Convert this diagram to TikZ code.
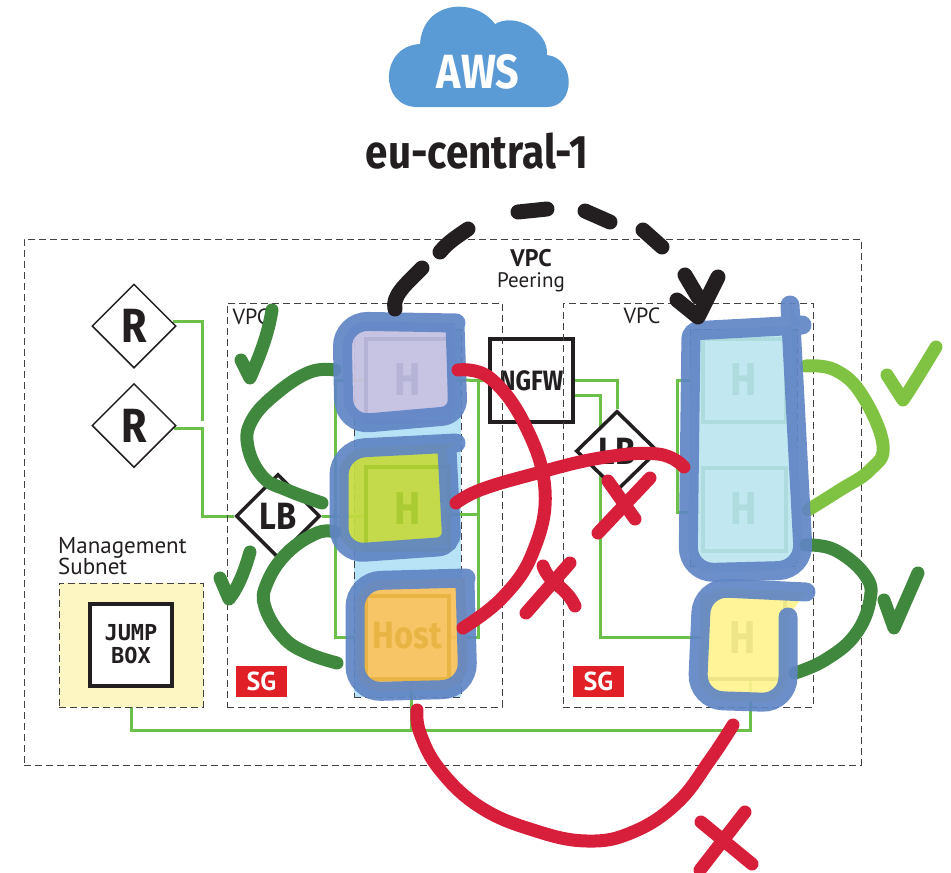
\documentclass[tikz,border=0pt]{standalone}
\usepackage{fontspec}
\setmainfont{PT Sans}
\newfontfamily\heavyfont[FakeStretch=0.86]{Fira Sans}
\newfontfamily\jumpfont{DejaVu Sans Mono}
\usetikzlibrary{shapes.geometric}

\pgfdeclarelayer{under}
\pgfsetlayers{under,main}

\newcommand{\pxfont}[1]{\fontsize{#1}{#1}\selectfont}

\definecolor{cloudBlue}{HTML}{5B9BD5}
\definecolor{wireGreen}{HTML}{6CC04A}
\definecolor{blobBlue}{HTML}{6085C5}
\definecolor{columnBlue}{HTML}{B8E3F7}
\definecolor{tickGreen}{HTML}{41883F}
\definecolor{limeGreen}{HTML}{80C342}
\definecolor{crossRed}{HTML}{D71F3B}
\definecolor{sgRed}{HTML}{E01F26}
\definecolor{inkBlack}{HTML}{231F20}
\definecolor{subnetYellow}{HTML}{FDF6C3}
\definecolor{fillPurple}{HTML}{C9C2E2}
\definecolor{fillLime}{HTML}{C5DA3F}
\definecolor{fillOrange}{HTML}{FDC35C}
\definecolor{fillTeal}{HTML}{C2E8F1}
\definecolor{fillYellow}{HTML}{FFF38F}
\definecolor{linePurple}{HTML}{B5B4D6}
\definecolor{lineLime}{HTML}{AACB32}
\definecolor{lineOrange}{HTML}{E8B544}
\definecolor{lineTeal}{HTML}{AEDBDE}
\definecolor{lineYellow}{HTML}{EDE587}

\tikzset{
	vpcBox/.style={rectangle, draw=inkBlack!85, dash pattern=on 7pt off 4pt, line width=0.9pt, inner sep=0pt},
	wire/.style={draw=wireGreen, line width=3pt},
	routerNode/.style={diamond, aspect=1, draw=inkBlack, fill=white, line width=#1, inner sep=0pt, minimum width=84pt, minimum height=84pt, text=inkBlack},
	hostNode/.style={rectangle, draw=#1, text=#1, line width=4pt, inner sep=0pt, minimum size=83pt, font=\heavyfont\bfseries\pxfont{46}},
	blobStroke/.style={draw=blobBlue, opacity=0.92, line width=19pt, rounded corners=26pt, line cap=round},
	blobFill/.style={fill=#1, fill opacity=0.93, rounded corners=26pt},
	scribble/.style={line width=#1, line cap=round, line join=round},
	sgTag/.style={rectangle, fill=sgRed, text=white, inner sep=0pt, minimum width=51pt, minimum height=31pt, font=\bfseries\pxfont{26}},
	vpcLabel/.style={text=inkBlack, inner sep=0pt, font=\pxfont{22}},
}

\begin{document}
\begin{tikzpicture}[x=1pt, y=-1pt]
	\useasboundingbox (0,0) rectangle (951,873);

	% region
	\fill[cloudBlue] (417,107) -- (547,107) .. controls (576,107) and (576,58) .. (547,55) .. controls (549,31) and (515,12) .. (495,24) .. controls (475,-3) and (423,0) .. (420,44) .. controls (379,46) and (379,107) .. (417,107) -- cycle;
	\node[text=white, font=\heavyfont\bfseries\pxfont{48}](awsLabel) at (478,72){AWS};
	\node[text=inkBlack, font=\heavyfont\bfseries\pxfont{47}](regionLabel) at (477,151){eu-central-1};

	\node[rectangle, draw=inkBlack, fill=white, line width=4pt, minimum size=83pt, inner sep=0pt, text=inkBlack, font=\heavyfont\bfseries\pxfont{28}](ngfw) at (531.5,380.5){NGFW};

	\node[vpcBox, minimum width=837pt, minimum height=526pt](vpcOuter) at (442.5,502){};
	\node[vpcBox, minimum width=275pt, minimum height=404pt](vpcLeft) at (364.5,505){};
	\node[vpcBox, minimum width=250pt, minimum height=404pt](vpcRight) at (688,505){};
	\node[vpcLabel](vpcLeftLabel) at (251,317){VPC};
	\node[vpcLabel](vpcRightLabel) at (642,316){VPC};
	\node[text=inkBlack, inner sep=0pt, font=\bfseries\pxfont{24}](peeringTop) at (531,258){VPC};
	\node[text=inkBlack, inner sep=0pt, font=\pxfont{21}](peeringBottom) at (531,282){Peering};

	\node[vpcBox, fill=subnetYellow, minimum width=144pt, minimum height=124pt](subnet) at (131,645){};
	\node[rectangle, draw=inkBlack, fill=white, line width=4pt, inner sep=0pt, minimum size=82pt, align=center, text=inkBlack, font=\jumpfont\bfseries\pxfont{22}](jumpBox) at (131,644.5){JUMP\\[1pt]BOX};
	\node[anchor=north west, align=left, inner sep=0pt, text=inkBlack, font=\pxfont{23}](subnetLabel) at (58,537){Management\\[-2pt]Subnet};

	\node[sgTag](sgLeft) at (261.5,681.5){SG};
	\node[sgTag](sgRight) at (598.5,681.5){SG};

	% host fills, then the boxes seen through them
	\def\hostPathA{(456,323) -- (342,321) -- (344,425) [rounded corners=16pt] -- (458,415) -- (455,325)}
	\def\hostPathB{(456,443) -- (339,449) -- (339,554) [rounded corners=14pt] -- (452,546) -- (447,450)}
	\def\hostPathC{(466,578) -- (355,581) -- (355,692) -- (468,689) -- (465,582)}
	\def\hostPathD{(802,325) [rounded corners=8pt] -- (691,331) [rounded corners=26pt] -- (688,573) -- (804,570) -- (790,305)}
	\def\hostPathE{(806,592) -- (702,587) -- (697,700) -- (788,703) -- (788,617)}

	\fill[blobFill=fillPurple] \hostPathA;
	\fill[blobFill=fillLime] \hostPathB;
	\fill[blobFill=fillOrange] \hostPathC;
	\fill[blobFill=fillTeal] \hostPathD;
	\fill[blobFill=fillYellow] \hostPathE;

	\node[hostNode=linePurple](hostA) at (407.5,380){H};
	\node[hostNode=lineLime](hostB) at (407.5,508.5){H};
	\node[hostNode=lineOrange, font=\heavyfont\bfseries\pxfont{38}](hostC) at (407.5,637.5){\raisebox{5pt}{Host}};
	\node[hostNode=lineTeal](hostD) at (744,380){H};
	\node[hostNode=lineTeal](hostE) at (744,509){H};
	\node[hostNode=lineYellow](hostF) at (743,637.5){H};

	\node[routerNode=1.5pt, font=\heavyfont\bfseries\pxfont{48}](routerA) at (134,326){R};
	\node[routerNode=1.5pt, font=\heavyfont\bfseries\pxfont{48}](routerB) at (134,425.5){R};
	\node[routerNode=3.5pt, font=\heavyfont\bfseries\pxfont{38}](lbLeft) at (278,516){LB};
	\node[routerNode=3.5pt, font=\heavyfont\bfseries\pxfont{38}, minimum width=82pt, minimum height=80pt](lbRight) at (617,451){LB};

	% wires
	\coordinate (routerAEnd) at (202,421);
	\coordinate (routerBus) at (202,470);
	\coordinate (busLeft) at (335,500);
	\coordinate (busRight) at (478,500);
	\coordinate (busPeer) at (677,450);
	\coordinate (busLower) at (600,637);
	\coordinate (busBottom) at (750,730);

	\begin{pgfonlayer}{under}
	\node[vpcBox, fill=columnBlue, minimum width=107pt, minimum height=368pt](columnLeft) at (407.5,513){};
	\node[vpcBox, fill=columnBlue, minimum width=107pt, minimum height=237pt](columnRight) at (743.5,447.5){};
	\draw[wire] (routerA.6) -| (routerAEnd);
	\draw[wire] (routerB.-4) -| (routerBus) |- (lbLeft.west);
	\draw[wire] (lbLeft.east) -- (lbLeft.east -| hostB.west);
	\draw[wire] (hostA.west) -| (busLeft) |- (hostC.west);
	\draw[wire] (hostA.east) -- (ngfw.west);
	\draw[wire] (hostA.east -| busRight) -- (busRight) |- (hostC.east);
	\draw[wire] (hostB.-8) -- (hostB.-8 -| busRight);
	\draw[wire] (ngfw.east) -| (lbRight.north);
	\draw[wire] (ngfw.-19) -| (busLower) -- (busLower -| hostF.west);
	\draw[wire] (hostD.west) -| (busPeer) |- (hostE.184);
	\draw[wire] (subnet.south) |- (busBottom) -- (busBottom |- hostF.south);
	\draw[wire] (hostC.-85) -- (hostC.-85 |- busBottom);
	\end{pgfonlayer}

	% green ones
	\draw[scribble=13pt, tickGreen] plot[smooth, tension=0.7] coordinates {(335,370) (310,372) (277,393) (252,420) (248,447) (263,477) (287,490) (322,503)};
	\draw[scribble=13pt, tickGreen] plot[smooth, tension=0.7] coordinates {(335,532) (317,533) (287,553) (267,583) (265,607) (283,637) (307,653) (337,663)};
	\draw[scribble=13pt, tickGreen] (241,360) -- (250,378) .. controls (260,355) and (268,335) .. (272,310);
	\draw[scribble=13pt, tickGreen] (220,578) -- (229,599) .. controls (238,588) and (245,570) .. (250,552);
	\draw[scribble=13pt, limeGreen] plot[smooth, tension=0.7] coordinates {(806,366) (835,370) (862,395) (883,445) (870,470) (840,490) (808,510)};
	\draw[scribble=13pt, tickGreen] plot[smooth, tension=0.7] coordinates {(806,545) (835,550) (865,575) (870,600) (855,635) (825,660) (795,673)};
	\draw[scribble=13pt, limeGreen] (887,375) -- (903,400) .. controls (915,382) and (925,365) .. (936,347);
	\draw[scribble=13pt, tickGreen] (884,600) -- (894,628) -- (918,573);

	% host outlines
	\draw[blobStroke] \hostPathA;
	\draw[blobStroke] \hostPathB;
	\draw[blobStroke] \hostPathC;
	\draw[blobStroke] \hostPathD;
	\draw[blobStroke] \hostPathE;

	% red ones
	\draw[scribble=13pt, crossRed] plot[smooth, tension=0.7] coordinates {(458,370) (490,378) (525,425) (545,490) (533,552) (503,597) (463,628)};
	\draw[scribble=13pt, crossRed] plot[smooth, tension=0.7] coordinates {(456,503) (480,490) (530,475) (600,458) (658,454) (684,467)};
	\draw[scribble=13pt, crossRed] plot[smooth, tension=0.7] coordinates {(417,710) (420,733) (440,770) (480,807) (533,830) (587,841) (633,832) (677,803) (710,760) (733,725)};
	\draw[scribble=13pt, crossRed] (598,533) -- (650,478);
	\draw[scribble=13pt, crossRed] (608,481) -- (635,519);
	\draw[scribble=13pt, crossRed] (526,613) -- (570,563);
	\draw[scribble=13pt, crossRed] (543,566) .. controls (550,585) and (565,585) .. (575,606);
	\draw[scribble=13pt, crossRed] (700,870) -- (745,812);
	\draw[scribble=13pt, crossRed] (701,822) -- (752,864);

	% peering arc
	\draw[scribble=15pt, inkBlack] (395,309) .. controls (392,296) and (405,285) .. (422,268);
	\draw[scribble=15pt, inkBlack] (440,252) .. controls (448,242) and (458,236) .. (468,229);
	\draw[scribble=15pt, inkBlack] (518,212) -- (547,209);
	\draw[scribble=15pt, inkBlack] (585,211) -- (610,222);
	\draw[scribble=15pt, inkBlack] (643,230) -- (662,247);
	\draw[scribble=15pt, inkBlack] (677,300) -- (698,317) -- (718,277);
	\draw[scribble=15pt, inkBlack] (685,275) -- (698,297);
\end{tikzpicture}
\end{document}
